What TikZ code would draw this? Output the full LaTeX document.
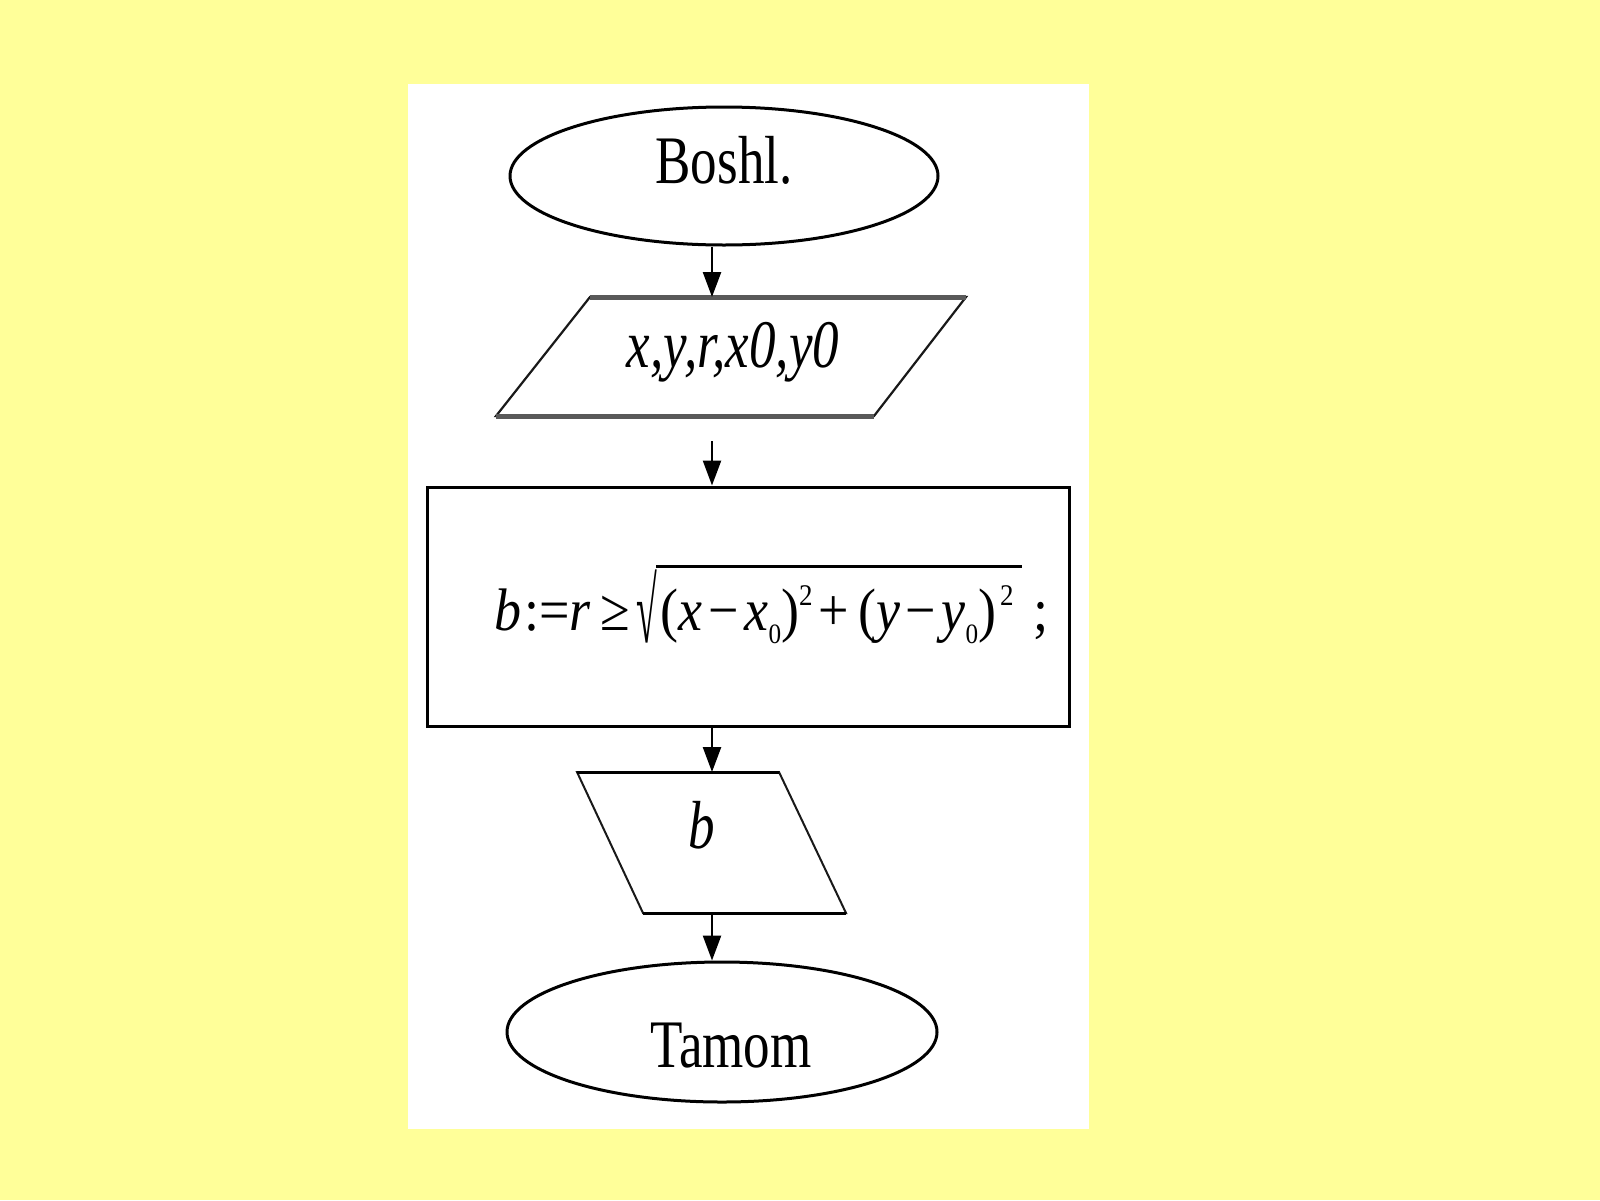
\documentclass[tikz,border=0pt]{standalone}
\usepackage{graphicx}
\usepackage{fontspec}
\setmainfont{Liberation Serif}
\newfontfamily\narrowserif[FakeStretch=0.78]{Liberation Serif}
\newfontfamily\formulaserif[FakeStretch=0.9]{Liberation Serif}
\usetikzlibrary{arrows.meta,shapes.geometric}
\definecolor{paleyellow}{RGB}{255,255,153}
\newcommand{\sqexp}{\raisebox{25pt}{\fontsize{30}{30}\selectfont 2}}
\newcommand{\subzero}{\raisebox{-13pt}{\fontsize{28}{28}\selectfont 0}}
\newcommand{\radic}[1]{\raisebox{-12.4pt}{\scalebox{0.7}[1.53]{√}}\kern-1pt\vbox{\hrule height 3pt\kern 17pt\hbox{#1}}}
\tikzset{
  flowline/.style={line width=2.4pt, -{Triangle[length=25pt,width=18pt]}},
  termbox/.style={draw=black, line width=3pt, ellipse, fill=white, inner sep=0pt},
  iobox/.style={draw=black!90, line width=2.2pt, line join=miter},
  ioedge/.style={line width=5pt, draw=black!65},
  procbox/.style={draw=black, line width=3pt, inner sep=0pt},
  bigtext/.style={font=\narrowserif\fontsize{68}{80}\selectfont},
  mathtext/.style={font=\formulaserif\fontsize{60}{70}\selectfont, inner sep=0pt}
}
\begin{document}
\begin{tikzpicture}[x=1pt,y=1pt]
% background
\fill[paleyellow] (0,0) rectangle (1600,-1200);
\fill[white] (408,-84) rectangle (1089,-1129);
\useasboundingbox (0,0) rectangle (1600,-1200);
\coordinate (axis) at (712,0);
%
\node[termbox, minimum width=428pt, minimum height=138pt] (start) at (724,-176) {};
\node[bigtext] (starttxt) at (724,-160) {Boshl.};
%
\draw[iobox] (590,-297) coordinate (inptop) -- (966,-297) -- (874,-416) coordinate (inpbot) -- (496,-416) -- cycle;
\draw[ioedge] (590,-297) -- (966,-297);
\draw[ioedge] (496,-416) -- (874,-416);
\node[bigtext] (inptxt) at (733,-352) {\itshape x,y,r,x0,y0};
%
\coordinate (gap) at (712,-441);
\node[procbox, minimum width=642pt, minimum height=239pt] (calc) at (748,-606.5) {};
\node[mathtext, anchor=base west] (calctxt) at (494,-630) {\textit{b}\kern3pt:=\textit{r}\kern10pt≥\kern6pt\radic{\kern4pt(\textit{x}\kern6pt−\kern6pt\textit{x}\subzero)\sqexp\kern6pt+\kern9pt(\textit{y}\kern5pt−\kern6pt\textit{y}\subzero)\kern4pt\sqexp\kern8pt}\kern12pt;};
%
\draw[iobox, line width=2pt] (577,-772) coordinate (outtop) -- (779,-772) -- (846,-913) -- (643,-913) coordinate (outbot) -- cycle;
\draw[line width=3pt] (577,-772) -- (779,-772);
\draw[line width=3pt] (643,-913) -- (846,-913);
\node[bigtext] (outptxt) at (702,-825) {\itshape b};
%
\node[termbox, minimum width=430pt, minimum height=140pt] (stop) at (722,-1032) {};
\node[bigtext] (stoptxt) at (731,-1046) {Tamom};
%
\draw[flowline] (start.south -| axis) -- (inptop -| axis);
\draw[flowline] (gap) -- (calc.north -| axis);
\draw[flowline] (calc.south -| axis) -- (outtop -| axis);
\draw[flowline] (outbot -| axis) -- (stop.north -| axis);
\end{tikzpicture}
\end{document}
